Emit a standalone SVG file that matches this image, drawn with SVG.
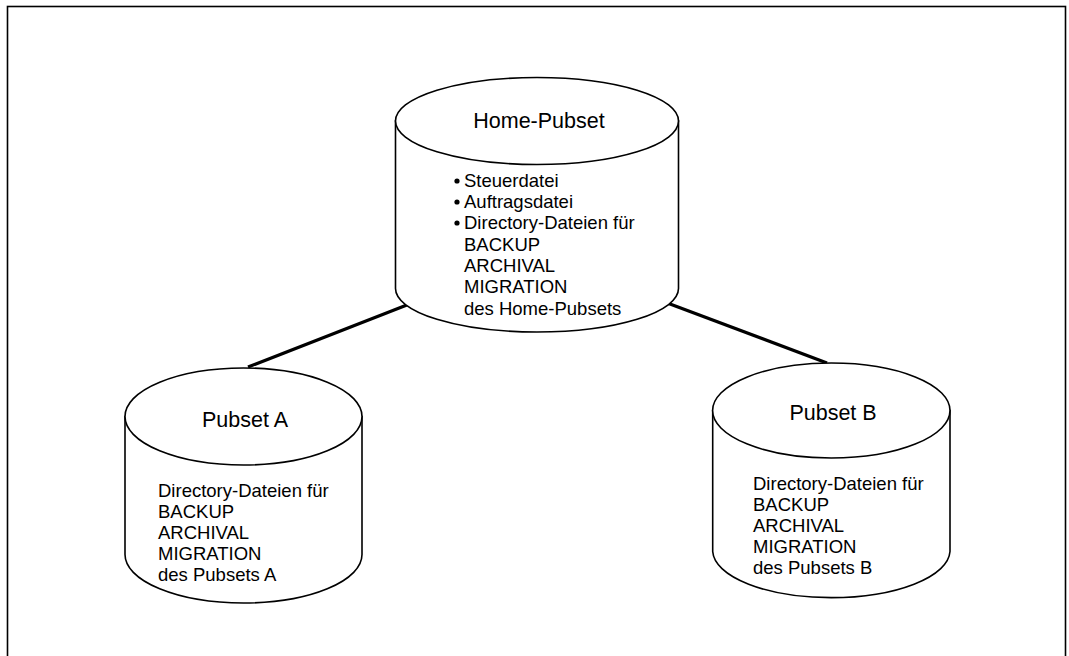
<svg xmlns="http://www.w3.org/2000/svg" width="1069" height="656" viewBox="0 0 1069 656">
<style>
.frame{fill:none;stroke:#000;stroke-width:1.6}
.cyl{fill:#fff;stroke:#000;stroke-width:1.6}
.conn{stroke:#000;stroke-width:3.2;fill:none}
.title{font-family:"Liberation Sans",Arial,sans-serif;font-size:21.5px;fill:#000;text-anchor:middle}
.body{font-family:"Liberation Sans",Arial,sans-serif;font-size:18.5px;fill:#000}
</style>
<rect class="frame" x="7.5" y="6.5" width="1058" height="670"/>
<g id="connectors">
<line class="conn" x1="412" y1="303" x2="248" y2="367"/>
<line class="conn" x1="662" y1="301" x2="827" y2="363"/>
</g>
<g id="home-pubset">
<path class="cyl" d="M395.5,121 L395.5,288.5 A141.5,43.5 0 0 0 678.5,288.5 L678.5,121 Z"/>
<ellipse class="cyl" cx="537" cy="121" rx="141.5" ry="43.5"/>
<text class="title" x="539" y="128">Home-Pubset</text>
<circle cx="457" cy="181" r="2.6"/>
<circle cx="457" cy="202" r="2.6"/>
<circle cx="457" cy="223" r="2.6"/>
<text class="body" x="464" y="187">Steuerdatei</text>
<text class="body" x="464" y="208">Auftragsdatei</text>
<text class="body" x="464" y="229">Directory-Dateien für</text>
<text class="body" x="464" y="251">BACKUP</text>
<text class="body" x="464" y="272">ARCHIVAL</text>
<text class="body" x="464" y="293">MIGRATION</text>
<text class="body" x="464" y="315">des Home-Pubsets</text>
</g>
<g id="pubset-a">
<path class="cyl" d="M125,416.5 L125,554.5 A118.5,48.5 0 0 0 362,554.5 L362,416.5 Z"/>
<ellipse class="cyl" cx="243.5" cy="416.5" rx="118.5" ry="48.5"/>
<text class="title" x="245" y="427">Pubset A</text>
<text class="body" x="158" y="497">Directory-Dateien für</text>
<text class="body" x="158" y="518">BACKUP</text>
<text class="body" x="158" y="539">ARCHIVAL</text>
<text class="body" x="158" y="560">MIGRATION</text>
<text class="body" x="158" y="581">des Pubsets A</text>
</g>
<g id="pubset-b">
<path class="cyl" d="M712.7,410.5 L712.7,551.5 A118.7,47.5 0 0 0 950,551.5 L950,410.5 Z"/>
<ellipse class="cyl" cx="831.3" cy="410.5" rx="118.7" ry="47.5"/>
<text class="title" x="833" y="420">Pubset B</text>
<text class="body" x="753" y="490">Directory-Dateien für</text>
<text class="body" x="753" y="511">BACKUP</text>
<text class="body" x="753" y="532">ARCHIVAL</text>
<text class="body" x="753" y="553">MIGRATION</text>
<text class="body" x="753" y="574">des Pubsets B</text>
</g>
</svg>
